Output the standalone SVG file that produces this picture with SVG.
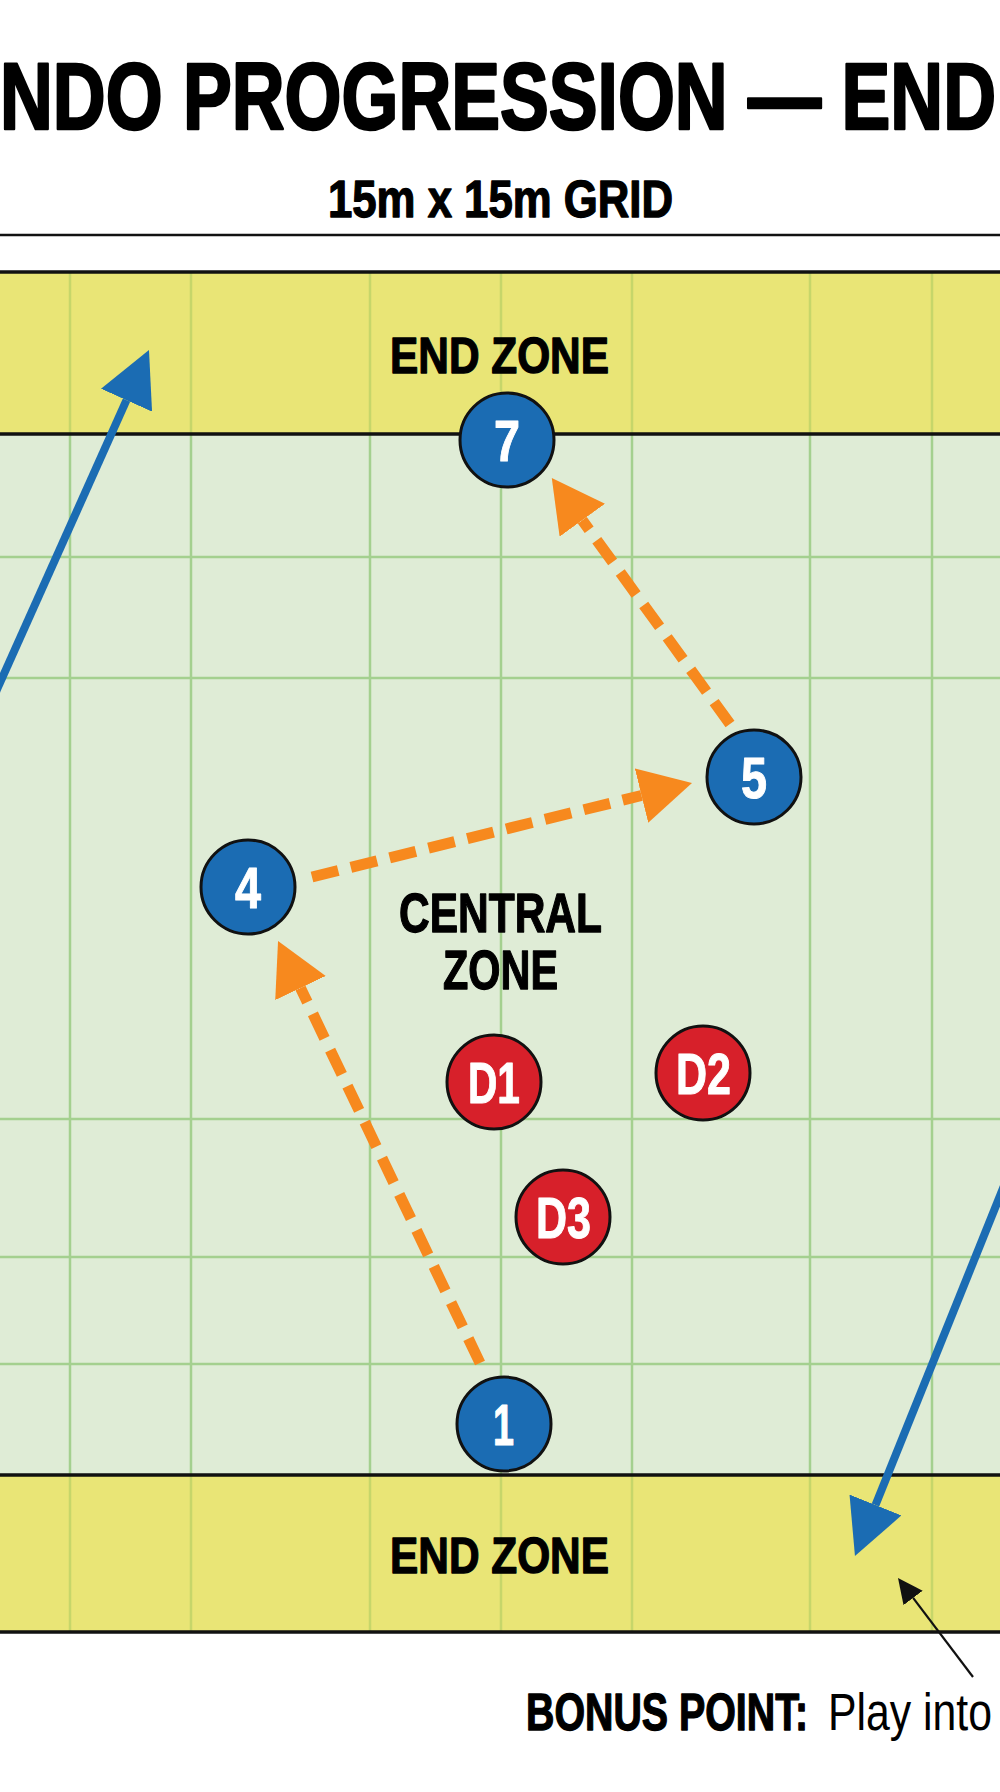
<svg xmlns="http://www.w3.org/2000/svg" width="1000" height="1792" viewBox="0 0 1000 1792">
  <defs>
    <style>
      .t { font-family: "Liberation Sans", Arial, sans-serif; font-weight: bold; fill: #000; stroke: #000; stroke-width: 1.3; stroke-linejoin: round; }
      .big { stroke-width: 2.6; }
      .reg { font-weight: normal; stroke: none; }
      .lbl { font-family: "Liberation Sans", Arial, sans-serif; font-weight: bold; fill: #fff; stroke: #fff; stroke-width: 1; stroke-linejoin: round; font-size: 57px; }
      .grid { stroke: #A4D08F; stroke-width: 2.5; }
      .gridY { stroke: #C6D66A; stroke-width: 2.5; }
      .border { stroke: #111; stroke-width: 3.5; }
      .blue { fill: #1B6CB3; stroke: #111; stroke-width: 3; }
      .red { fill: #D7202A; stroke: #111; stroke-width: 3; }
      .pass { stroke: #F7891E; stroke-width: 11; stroke-dasharray: 27 13; fill: none; }
      .run { stroke: #1B6CB3; stroke-width: 8; fill: none; }
      .note { stroke: #111; stroke-width: 2.2; fill: none; }
    </style>
    <marker id="ahOrange" markerUnits="userSpaceOnUse" markerWidth="54" markerHeight="56" refX="0" refY="28" orient="auto">
      <path d="M0,0 L52,28 L0,56 Z" fill="#F7891E"/>
    </marker>
    <marker id="ahBlue" markerUnits="userSpaceOnUse" markerWidth="57" markerHeight="56" refX="0" refY="28" orient="auto">
      <path d="M0,0 L55,28 L0,56 Z" fill="#1B6CB3"/>
    </marker>
    <marker id="ahBlack" markerUnits="userSpaceOnUse" markerWidth="27" markerHeight="24" refX="0" refY="12" orient="auto">
      <path d="M0,0 L25,12 L0,24 Z" fill="#111"/>
    </marker>
  </defs>

  <rect x="0" y="0" width="1000" height="1792" fill="#FFFFFF"/>

  <g id="header">
    <text class="t big" x="0" y="129" font-size="94" textLength="996" lengthAdjust="spacingAndGlyphs">NDO PROGRESSION — END</text>
    <text class="t" x="328" y="217" font-size="51" textLength="345" lengthAdjust="spacingAndGlyphs">15m x 15m GRID</text>
    <line x1="0" y1="235" x2="1000" y2="235" stroke="#111" stroke-width="2.5"/>
  </g>

  <g id="field">
    <rect x="0" y="272" width="1000" height="162" fill="#E9E576"/>
    <rect x="0" y="434" width="1000" height="1041" fill="#DFECD6"/>
    <rect x="0" y="1475" width="1000" height="157" fill="#E9E576"/>
    <g id="grid-central">
      <line class="grid" x1="0" y1="557" x2="1000" y2="557"/>
      <line class="grid" x1="0" y1="678" x2="1000" y2="678"/>
      <line class="grid" x1="0" y1="1119" x2="1000" y2="1119"/>
      <line class="grid" x1="0" y1="1257" x2="1000" y2="1257"/>
      <line class="grid" x1="0" y1="1364" x2="1000" y2="1364"/>
      <line class="grid" x1="70" y1="434" x2="70" y2="1475"/>
      <line class="grid" x1="191" y1="434" x2="191" y2="1475"/>
      <line class="grid" x1="370" y1="434" x2="370" y2="1475"/>
      <line class="grid" x1="501" y1="434" x2="501" y2="1475"/>
      <line class="grid" x1="632" y1="434" x2="632" y2="1475"/>
      <line class="grid" x1="810" y1="434" x2="810" y2="1475"/>
      <line class="grid" x1="932" y1="434" x2="932" y2="1475"/>
    </g>
    <g id="grid-endzones">
      <line class="gridY" x1="70" y1="272" x2="70" y2="434"/>
      <line class="gridY" x1="191" y1="272" x2="191" y2="434"/>
      <line class="gridY" x1="370" y1="272" x2="370" y2="434"/>
      <line class="gridY" x1="501" y1="272" x2="501" y2="434"/>
      <line class="gridY" x1="632" y1="272" x2="632" y2="434"/>
      <line class="gridY" x1="810" y1="272" x2="810" y2="434"/>
      <line class="gridY" x1="932" y1="272" x2="932" y2="434"/>
      <line class="gridY" x1="70" y1="1475" x2="70" y2="1632"/>
      <line class="gridY" x1="191" y1="1475" x2="191" y2="1632"/>
      <line class="gridY" x1="370" y1="1475" x2="370" y2="1632"/>
      <line class="gridY" x1="501" y1="1475" x2="501" y2="1632"/>
      <line class="gridY" x1="632" y1="1475" x2="632" y2="1632"/>
      <line class="gridY" x1="810" y1="1475" x2="810" y2="1632"/>
      <line class="gridY" x1="932" y1="1475" x2="932" y2="1632"/>
    </g>
    <line class="border" x1="0" y1="272" x2="1000" y2="272"/>
    <line class="border" x1="0" y1="434" x2="1000" y2="434"/>
    <line class="border" x1="0" y1="1475" x2="1000" y2="1475"/>
    <line class="border" x1="0" y1="1632" x2="1000" y2="1632"/>
  </g>

  <g id="zone-labels">
    <text class="t" x="390" y="373" font-size="50" textLength="219" lengthAdjust="spacingAndGlyphs">END ZONE</text>
    <text class="t" x="399" y="932" font-size="56" textLength="203" lengthAdjust="spacingAndGlyphs">CENTRAL</text>
    <text class="t" x="443" y="989" font-size="56" textLength="115" lengthAdjust="spacingAndGlyphs">ZONE</text>
    <text class="t" x="390" y="1573" font-size="50" textLength="219" lengthAdjust="spacingAndGlyphs">END ZONE</text>
  </g>

  <g id="connectors">
    <line class="pass" x1="480" y1="1363" x2="300.5" y2="988" marker-end="url(#ahOrange)"/>
    <line class="pass" x1="312" y1="877" x2="641.5" y2="795.5" marker-end="url(#ahOrange)"/>
    <line class="pass" x1="730" y1="724" x2="582.3" y2="520.2" marker-end="url(#ahOrange)"/>
    <line class="run" x1="-10" y1="705" x2="126.5" y2="400.2" marker-end="url(#ahBlue)"/>
    <line class="run" x1="1010" y1="1171" x2="875.5" y2="1505" marker-end="url(#ahBlue)"/>
    <line class="note" x1="973" y1="1677" x2="913.1" y2="1597.9" marker-end="url(#ahBlack)"/>
  </g>

  <g id="node-7">
    <circle class="blue" cx="507" cy="440" r="47"/>
    <text class="lbl" x="494" y="461" textLength="26" lengthAdjust="spacingAndGlyphs">7</text>
  </g>
  <g id="node-5">
    <circle class="blue" cx="754" cy="777" r="47"/>
    <text class="lbl" x="741" y="798" textLength="26" lengthAdjust="spacingAndGlyphs">5</text>
  </g>
  <g id="node-4">
    <circle class="blue" cx="248" cy="887" r="47"/>
    <text class="lbl" x="235" y="908" textLength="26" lengthAdjust="spacingAndGlyphs">4</text>
  </g>
  <g id="node-1">
    <circle class="blue" cx="504" cy="1424" r="47"/>
    <text class="lbl" x="493" y="1445" textLength="21" lengthAdjust="spacingAndGlyphs">1</text>
  </g>
  <g id="node-D1">
    <circle class="red" cx="494" cy="1082" r="47"/>
    <text class="lbl" x="468" y="1103" textLength="52" lengthAdjust="spacingAndGlyphs">D1</text>
  </g>
  <g id="node-D2">
    <circle class="red" cx="703" cy="1073" r="47"/>
    <text class="lbl" x="676" y="1094" textLength="55" lengthAdjust="spacingAndGlyphs">D2</text>
  </g>
  <g id="node-D3">
    <circle class="red" cx="563" cy="1217" r="47"/>
    <text class="lbl" x="536" y="1238" textLength="55" lengthAdjust="spacingAndGlyphs">D3</text>
  </g>

  <g id="bonus-note">
    <text class="t" y="1730" font-size="51"><tspan x="526" textLength="282" lengthAdjust="spacingAndGlyphs">BONUS POINT:</tspan><tspan class="reg" x="828" textLength="164" lengthAdjust="spacingAndGlyphs">Play into</tspan></text>
  </g>
</svg>
